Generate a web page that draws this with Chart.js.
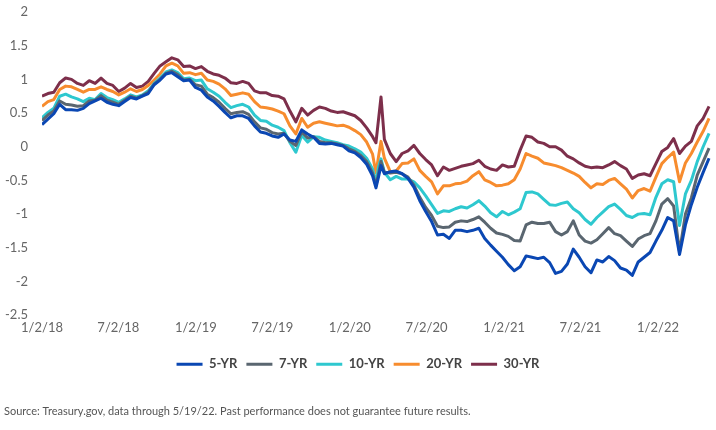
<!DOCTYPE html>
<html><head><meta charset="utf-8">
<script src="https://cdn.jsdelivr.net/npm/chart.js@4.4.0/dist/chart.umd.min.js"></script>
<style>html,body{margin:0;padding:0;background:#fff;} #wrap{width:716px;height:430px;}</style>
</head><body><div id="wrap"><canvas id="c" width="716" height="430"></canvas></div>
<script>
// days since 1/2/18
const days = [0,14,28,42,56,70,84,98,112,126,140,154,168,182,196,210,224,238,252,266,280,294,308,322,336,350,364,378,392,406,420,434,448,462,476,490,504,518,532,546,560,574,588,602,616,630,644,658,672,686,700,714,728,742,756,770,784,792,798,804,812,826,840,854,868,882,896,910,924,938,952,966,980,994,1008,1022,1036,1050,1064,1078,1092,1106,1120,1134,1148,1162,1176,1190,1204,1218,1232,1246,1260,1274,1288,1302,1316,1330,1344,1358,1372,1386,1400,1414,1428,1442,1456,1470,1484,1498,1512,1526,1540,1554,1568,1582];
const tickDays = [0,181,365,546,730,912,1096,1277,1461];
const tickLabels = ['1/2/18','7/2/18','1/2/19','7/2/19','1/2/20','7/2/20','1/2/21','7/2/21','1/2/22'];
const lastDay = 1589;

const yr5 = [0.33,0.41,0.49,0.63,0.55,0.55,0.54,0.57,0.64,0.68,
0.72,0.66,0.63,0.61,0.67,0.73,0.71,0.75,0.79,0.92,
0.99,1.08,1.10,1.04,0.98,0.99,0.88,0.84,0.74,0.68,
0.60,0.51,0.43,0.46,0.46,0.42,0.31,0.22,0.20,0.16,
0.14,0.19,0.10,0.08,0.25,0.19,0.14,0.05,0.04,0.05,
0.03,0.01,-0.06,-0.09,-0.16,-0.26,-0.43,
-0.61,-0.45,-0.28,
-0.40,-0.37,-0.36,-0.40,-0.47,-0.60,-0.80,-0.96,-1.11,-1.31,
-1.30,-1.36,-1.24,-1.24,-1.26,-1.24,-1.21,-1.36,-1.46,-1.55,
-1.64,-1.75,-1.84,-1.78,-1.62,-1.64,-1.66,-1.64,-1.72,-1.88,
-1.85,-1.74,-1.52,-1.64,-1.78,-1.87,-1.68,-1.71,-1.63,-1.69,
-1.80,-1.83,-1.91,-1.71,-1.64,-1.57,-1.40,-1.24,-1.05,-1.10,
-1.60,-1.16,-0.86,-0.60,-0.38,-0.17];

const yr7 = [0.39,0.47,0.53,0.68,0.63,0.62,0.60,0.61,0.68,0.69,
0.76,0.69,0.66,0.63,0.69,0.75,0.72,0.76,0.81,0.93,
1.00,1.09,1.12,1.07,0.99,1.00,0.92,0.90,0.78,0.73,
0.66,0.57,0.49,0.51,0.52,0.48,0.37,0.28,0.26,0.21,
0.19,0.20,0.08,0.02,0.22,0.13,0.15,0.08,0.06,0.06,
0.04,0.02,-0.03,-0.07,-0.13,-0.22,-0.39,
-0.58,-0.40,-0.22,
-0.38,-0.39,-0.38,-0.40,-0.45,-0.57,-0.75,-0.90,-1.02,-1.18,
-1.20,-1.19,-1.12,-1.10,-1.11,-1.08,-1.04,-1.12,-1.21,-1.28,
-1.30,-1.33,-1.39,-1.40,-1.16,-1.12,-1.14,-1.14,-1.12,-1.26,
-1.31,-1.26,-1.10,-1.31,-1.40,-1.43,-1.38,-1.29,-1.20,-1.29,
-1.32,-1.40,-1.48,-1.37,-1.32,-1.29,-1.10,-0.85,-0.77,-0.88,
-1.56,-1.00,-0.76,-0.42,-0.22,-0.02];

const yr10 = [0.43,0.51,0.57,0.75,0.78,0.74,0.71,0.67,0.72,0.70,
0.79,0.73,0.70,0.66,0.71,0.77,0.74,0.77,0.83,0.94,
1.02,1.11,1.14,1.10,1.01,1.02,0.98,0.99,0.86,0.81,
0.75,0.66,0.58,0.61,0.63,0.59,0.47,0.39,0.38,0.32,
0.29,0.24,0.06,-0.08,0.17,0.07,0.15,0.14,0.10,0.08,
0.06,0.03,0.01,-0.03,-0.08,-0.17,-0.33,
-0.54,-0.30,-0.18,
-0.38,-0.49,-0.44,-0.48,-0.48,-0.52,-0.61,-0.73,-0.86,-0.99,
-0.95,-0.96,-0.92,-0.89,-0.91,-0.86,-0.80,-0.88,-0.98,-1.04,
-0.96,-1.01,-0.97,-0.92,-0.68,-0.67,-0.70,-0.78,-0.86,-0.87,
-0.84,-0.82,-0.92,-0.98,-1.08,-1.15,-1.05,-0.97,-0.89,-0.85,
-0.93,-1.02,-1.05,-1.00,-0.99,-1.01,-0.75,-0.55,-0.49,-0.52,
-1.17,-0.70,-0.50,-0.22,0.00,0.20];

const yr20 = [0.60,0.67,0.70,0.85,0.90,0.89,0.85,0.81,0.85,0.85,
0.89,0.85,0.82,0.77,0.81,0.86,0.82,0.85,0.91,0.99,
1.08,1.20,1.24,1.20,1.09,1.10,1.07,1.09,0.99,0.97,
0.93,0.86,0.76,0.78,0.80,0.78,0.67,0.59,0.58,0.56,
0.53,0.49,0.31,0.19,0.42,0.29,0.35,0.37,0.35,0.33,
0.31,0.32,0.29,0.24,0.18,0.07,-0.11,
-0.39,-0.15,0.08,
-0.17,-0.37,-0.36,-0.25,-0.24,-0.18,-0.35,-0.44,-0.52,-0.70,
-0.58,-0.58,-0.55,-0.54,-0.51,-0.43,-0.37,-0.49,-0.53,-0.58,
-0.57,-0.55,-0.49,-0.33,-0.10,-0.14,-0.17,-0.24,-0.26,-0.28,
-0.31,-0.35,-0.39,-0.44,-0.53,-0.61,-0.55,-0.56,-0.50,-0.47,
-0.55,-0.63,-0.76,-0.65,-0.62,-0.66,-0.45,-0.25,-0.16,-0.08,
-0.52,-0.24,-0.10,0.07,0.23,0.42];

const yr30 = [0.75,0.79,0.81,0.95,1.02,1.00,0.94,0.91,0.98,0.94,
1.02,0.94,0.91,0.82,0.87,0.94,0.88,0.90,0.97,1.09,
1.20,1.26,1.32,1.29,1.19,1.20,1.16,1.19,1.12,1.08,
1.06,1.02,0.95,0.94,0.97,0.94,0.83,0.80,0.80,0.76,
0.75,0.71,0.53,0.37,0.57,0.47,0.54,0.59,0.57,0.53,
0.51,0.52,0.49,0.46,0.39,0.28,0.15,
0.06,0.40,0.74,
0.11,-0.10,-0.22,-0.10,-0.06,0.02,-0.10,-0.19,-0.27,-0.43,
-0.30,-0.35,-0.32,-0.29,-0.27,-0.25,-0.20,-0.29,-0.33,-0.35,
-0.27,-0.30,-0.29,-0.05,0.16,0.14,0.07,0.05,0.00,0.00,
-0.05,-0.14,-0.18,-0.24,-0.29,-0.31,-0.30,-0.31,-0.27,-0.22,
-0.28,-0.33,-0.47,-0.42,-0.40,-0.43,-0.25,-0.07,-0.01,0.12,
-0.10,0.01,0.08,0.31,0.42,0.60];

const seriesNames = ['5-YR','7-YR','10-YR','20-YR','30-YR'];
const seriesValues = [yr5, yr7, yr10, yr20, yr30];
const seriesColors = ['#0a47b3','#5a6670','#2ec8cf','#f78c2e','#7d2f4b'];

const datasets = seriesNames.map((name, i) => ({
  label: name,
  data: days.map((d, j) => ({x: d, y: seriesValues[i][j]})),
  borderColor: seriesColors[i],
  backgroundColor: seriesColors[i],
  borderWidth: 3,
  pointRadius: 0,
  pointHoverRadius: 0,
  tension: 0,
  borderJoinStyle: 'round',
  borderCapStyle: 'butt',
  pointStyle: 'line'
}));

const FONT = 'Lato, "Open Sans", sans-serif';

new Chart(document.getElementById('c'), {
  type: 'line',
  data: { datasets },
  options: {
    responsive: false,
    animation: false,
    events: [],
    layout: { padding: { left: 4, right: 4, top: 12, bottom: 8 } },
    scales: {
      x: {
        type: 'linear',
        min: 0,
        max: lastDay,
        grid: { display: false, drawTicks: false },
        border: { display: false },
        afterBuildTicks: s => { s.ticks = tickDays.map(v => ({ value: v })); },
        afterFit: s => { s.height += 8; },
        ticks: {
          autoSkip: false,
          maxRotation: 0,
          padding: 5,
          color: '#666',
          font: { family: FONT, size: 13 },
          callback: v => tickLabels[tickDays.indexOf(v)]
        }
      },
      y: {
        min: -2.5,
        max: 2,
        grid: { display: false, drawTicks: true, tickLength: 14 },
        border: { display: false },
        afterFit: s => { s.width = 38; },
        ticks: {
          stepSize: 0.5,
          padding: 0,
          color: '#666',
          font: { family: FONT, size: 13 },
          callback: v => String(v)
        }
      }
    },
    plugins: {
      legend: {
        position: 'bottom',
        labels: {
          usePointStyle: true,
          pointStyleWidth: 26,
          padding: 9,
          color: '#444',
          font: { family: FONT, size: 13, weight: 'bold' }
        }
      },
      subtitle: {
        display: true,
        position: 'bottom',
        align: 'start',
        text: 'Source: Treasury.gov, data through 5/19/22. Past performance does not guarantee future results.',
        color: '#555',
        font: { family: FONT, size: 11 },
        padding: { top: 24, bottom: 4 }
      },
      tooltip: { enabled: false }
    }
  }
});
</script></body></html>
